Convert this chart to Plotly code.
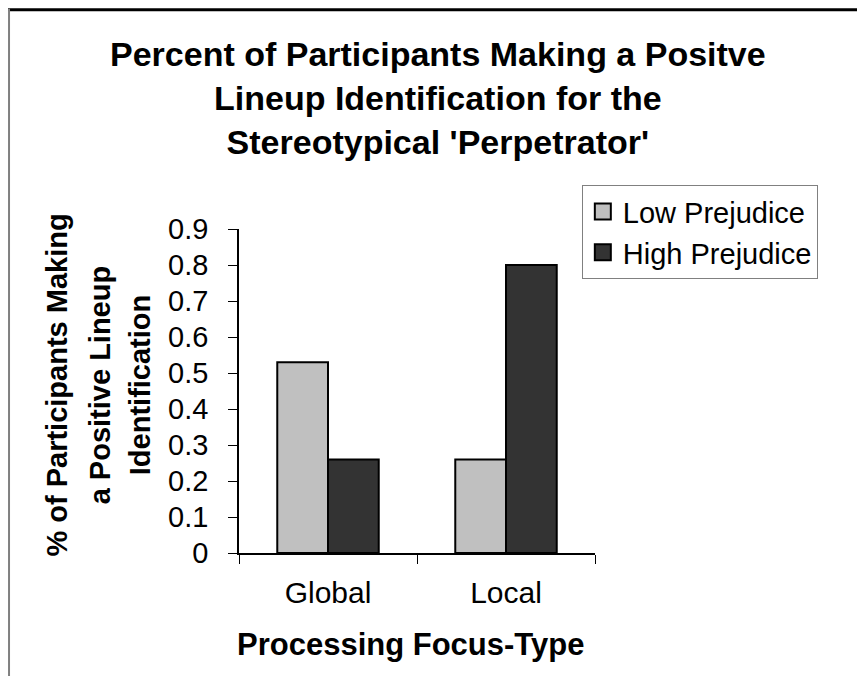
import plotly.graph_objects as go

categories = ["Global", "Local"]
low_prejudice = [0.53, 0.26]
high_prejudice = [0.26, 0.80]
series_names = ["Low Prejudice", "High Prejudice"]
series_colors = ["#C0C0C0", "#333333"]
y_ticks = [0, 0.1, 0.2, 0.3, 0.4, 0.5, 0.6, 0.7, 0.8, 0.9]
y_title_lines = ["% of Participants Making", "a Positive Lineup", "Identification"]

FONT = "Liberation Sans, Arial, sans-serif"

fig = go.Figure()
for vals, name, col, grp in [(low_prejudice, series_names[0], series_colors[0], "a"),
                             (high_prejudice, series_names[1], series_colors[1], "b")]:
    fig.add_trace(go.Bar(x=categories, y=vals, name=name, showlegend=False,
                         marker=dict(color=col, line=dict(color="black", width=2)),
                         legendgroup=grp))
    # legend proxy with a larger square swatch
    fig.add_trace(go.Scatter(x=[None], y=[None], mode="markers", name=name, legendgroup=grp,
                             marker=dict(symbol="square", size=16, color=col,
                                         line=dict(color="black", width=2))))

y_title_x = [-0.51, -0.39, -0.278]
annotations = [
    dict(text="<b>Percent of Participants Making a Positve<br>Lineup Identification for the<br>Stereotypical 'Perpetrator'</b>",
         xref="paper", yref="paper", x=0.559, y=1.405, xanchor="center", yanchor="middle",
         showarrow=False, font=dict(size=34, family=FONT, color="black")),
    dict(text="<b>Processing Focus-Type</b>",
         xref="paper", yref="paper", x=0.483, y=-0.281, xanchor="center", yanchor="middle",
         showarrow=False, font=dict(size=31, family=FONT, color="black")),
]
for line, xp in zip(y_title_lines, y_title_x):
    annotations.append(dict(text="<b>" + line + "</b>", xref="paper", yref="paper",
                            x=xp, y=0.518, xanchor="center", yanchor="middle",
                            textangle=-90, showarrow=False,
                            font=dict(size=29, family=FONT, color="black")))

fig.update_layout(
    width=865, height=676,
    margin=dict(l=231, r=278, t=221, b=131, pad=0),
    paper_bgcolor="white", plot_bgcolor="white",
    barmode="group", bargap=0.43, bargroupgap=0,
    font=dict(family=FONT, color="black"),
    xaxis=dict(
        type="category", showline=True, linecolor="black", linewidth=1.5,
        ticks="outside", tickson="boundaries", ticklen=9, tickcolor="black",
        tickfont=dict(size=30), ticklabelstandoff=12, showgrid=False, zeroline=False,
    ),
    yaxis=dict(
        range=[0, 0.9], tickvals=y_ticks, showline=True, linecolor="black", linewidth=1.5,
        ticks="outside", ticklen=9, tickcolor="black", tickfont=dict(size=29),
        ticklabelstandoff=14, showgrid=False, zeroline=False,
    ),
    legend=dict(
        x=0.963, y=1.135, xanchor="left", yanchor="top",
        bordercolor="#808080", borderwidth=1, bgcolor="white",
        font=dict(size=29), tracegroupgap=7, traceorder="normal", itemsizing="trace",
    ),
    annotations=annotations,
    shapes=[
        dict(type="line", xref="paper", yref="paper", x0=-0.66, x1=1.8, y0=1.677, y1=1.677,
             line=dict(color="black", width=3)),
        dict(type="line", xref="paper", yref="paper", x0=-0.646, x1=-0.646, y0=1.68, y1=-0.41,
             line=dict(color="#808080", width=2)),
    ],
)

fig.write_html("out.html")
